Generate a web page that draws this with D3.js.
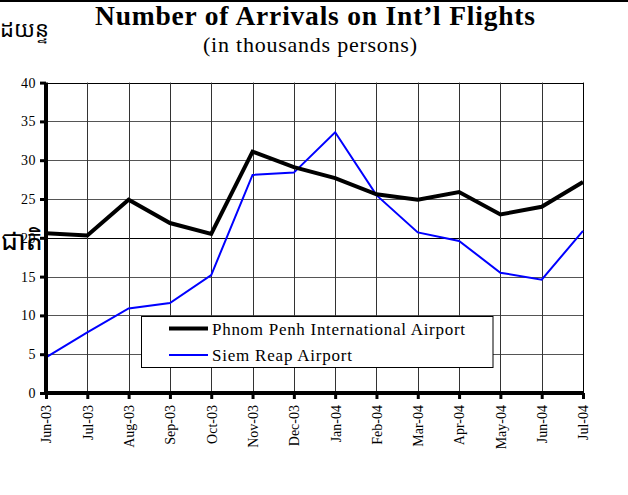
<!DOCTYPE html>
<html>
<head>
<meta charset="utf-8">
<script src="https://cdn.jsdelivr.net/npm/d3@7"></script>
<style>
  html, body { margin: 0; padding: 0; background: #fff; }
  svg { display: block; }
</style>
</head>
<body>
<svg id="chart" width="628" height="495"></svg>
<script>
const months = ["Jun-03","Jul-03","Aug-03","Sep-03","Oct-03","Nov-03","Dec-03","Jan-04","Feb-04","Mar-04","Apr-04","May-04","Jun-04","Jul-04"];
const phnomPenh = [20.6, 20.3, 24.9, 21.9, 20.5, 31.1, 29.1, 27.7, 25.6, 24.9, 25.9, 23.0, 24.0, 27.2];
const siemReap  = [4.6, 7.8, 10.9, 11.6, 15.2, 28.1, 28.4, 33.6, 25.5, 20.7, 19.6, 15.5, 14.6, 20.9];
const yTicks = [0, 5, 10, 15, 20, 25, 30, 35, 40];
const seriesNames = ["Phnom Penh International Airport", "Siem Reap Airport"];
const titleText = "Number of Arrivals on Int\u2019l Flights";
const subtitleText = "(in thousands persons)";

(function () {
const serif = "'Liberation Serif', 'Times New Roman', serif";
const khmer = "'Noto Sans Khmer', 'Khmer OS', 'Khmer OS System', serif";
const svg = d3.select("#chart");

const pLeft = 46, pRight = 583, pTop = 82.6, pBottom = 393;
const x = d3.scalePoint().domain(months).range([pLeft, pRight]);
const y = d3.scaleLinear().domain([0, 40]).range([pBottom, pTop]);

// top border line
svg.append("line").attr("x1", 0).attr("x2", 628).attr("y1", 1).attr("y2", 1)
  .attr("stroke", "#000").attr("stroke-width", 2);

// Khmer fragment at top left
svg.append("text").attr("x", 0).attr("y", 37)
  .attr("font-family", khmer).attr("font-weight", "normal")
  .attr("font-size", 22).attr("fill", "#000").text("ដយន្ទ");

function fitText(sel, w) {
  const len = sel.node().getComputedTextLength();
  if (len > 0) sel.attr("textLength", w).attr("lengthAdjust", "spacing");
}
const title = svg.append("text").attr("x", 95).attr("y", 25)
  .attr("font-family", serif).attr("font-weight", "bold").attr("font-size", 27.5)
  .attr("fill", "#000").text(titleText);
fitText(title, 440);
const sub = svg.append("text").attr("x", 203).attr("y", 52)
  .attr("font-family", serif).attr("font-size", 22)
  .attr("fill", "#000").text(subtitleText);
fitText(sub, 214);

// gridlines
const grid = svg.append("g");
grid.selectAll("line.h").data(yTicks.filter(d => d > 0)).enter().append("line")
  .attr("x1", pLeft).attr("x2", pRight)
  .attr("y1", d => Math.round(y(d)) + 0.5).attr("y2", d => Math.round(y(d)) + 0.5)
  .attr("stroke", d => (d === 40 || d === 20) ? "#000" : "#555").attr("stroke-width", 1);
grid.selectAll("line.v").data(months.slice(1)).enter().append("line")
  .attr("x1", d => Math.round(x(d)) + 0.5).attr("x2", d => Math.round(x(d)) + 0.5)
  .attr("y1", pTop).attr("y2", pBottom)
  .attr("stroke", (d, i) => i === months.length - 2 ? "#000" : "#333").attr("stroke-width", 1);

// lines
const line = d3.line().x((d, i) => x(months[i])).y(d => y(d));
svg.append("path").datum(siemReap).attr("d", line)
  .attr("fill", "none").attr("stroke", "#0000ff").attr("stroke-width", 2);
svg.append("path").datum(phnomPenh).attr("d", line)
  .attr("fill", "none").attr("stroke", "#000").attr("stroke-width", 4);

// axes
const yAxis = d3.axisLeft(y).tickValues(yTicks).tickSize(6).tickPadding(4);
const gy = svg.append("g").attr("transform", `translate(${pLeft},0)`).call(yAxis);
gy.select(".domain").attr("stroke", "#000").attr("stroke-width", 4).attr("d", `M0,${pBottom}V${pTop}`);
gy.selectAll(".tick line").attr("stroke", "#000").attr("stroke-width", 3);
gy.selectAll(".tick text").attr("font-family", serif).attr("font-size", 14).attr("fill", "#000")
  .attr("letter-spacing", 0.5);

const xAxis = d3.axisBottom(x).tickSize(6).tickPadding(4);
const gx = svg.append("g").attr("transform", `translate(0,${pBottom})`).call(xAxis);
gx.select(".domain").attr("stroke", "#000").attr("stroke-width", 4).attr("d", `M${pLeft - 2},0H${pRight}`);
gx.selectAll(".tick line").attr("stroke", "#000").attr("stroke-width", 3);
gx.selectAll(".tick text").attr("font-family", serif).attr("font-size", 14).attr("fill", "#000")
  .attr("transform", "rotate(-90)").attr("text-anchor", "end")
  .attr("x", -12).attr("y", 0).attr("dy", "0.35em");

// Khmer fragment overlapping the y axis labels
svg.append("text").attr("x", 43).attr("y", 250).attr("text-anchor", "end")
  .attr("font-family", khmer).attr("font-weight", "normal")
  .attr("font-size", 27).attr("fill", "#000").text("ជាតិ");

// legend
const lg = svg.append("g");
lg.append("rect").attr("x", 141.5).attr("y", 316.5).attr("width", 351.5).attr("height", 51)
  .attr("fill", "#fff").attr("stroke", "#000").attr("stroke-width", 1);
const legendItems = [
  { name: seriesNames[0], color: "#000", w: 4, yy: 328.5, tw: 253 },
  { name: seriesNames[1], color: "#0000ff", w: 2, yy: 355, tw: 140 }
];
legendItems.forEach(it => {
  lg.append("line").attr("x1", 169).attr("x2", 208).attr("y1", it.yy).attr("y2", it.yy)
    .attr("stroke", it.color).attr("stroke-width", it.w);
  const t = lg.append("text").attr("x", 212).attr("y", it.yy + 6)
    .attr("font-family", serif).attr("font-size", 17).attr("fill", "#000").text(it.name);
  fitText(t, it.tw);
});
})();
</script>
</body>
</html>
